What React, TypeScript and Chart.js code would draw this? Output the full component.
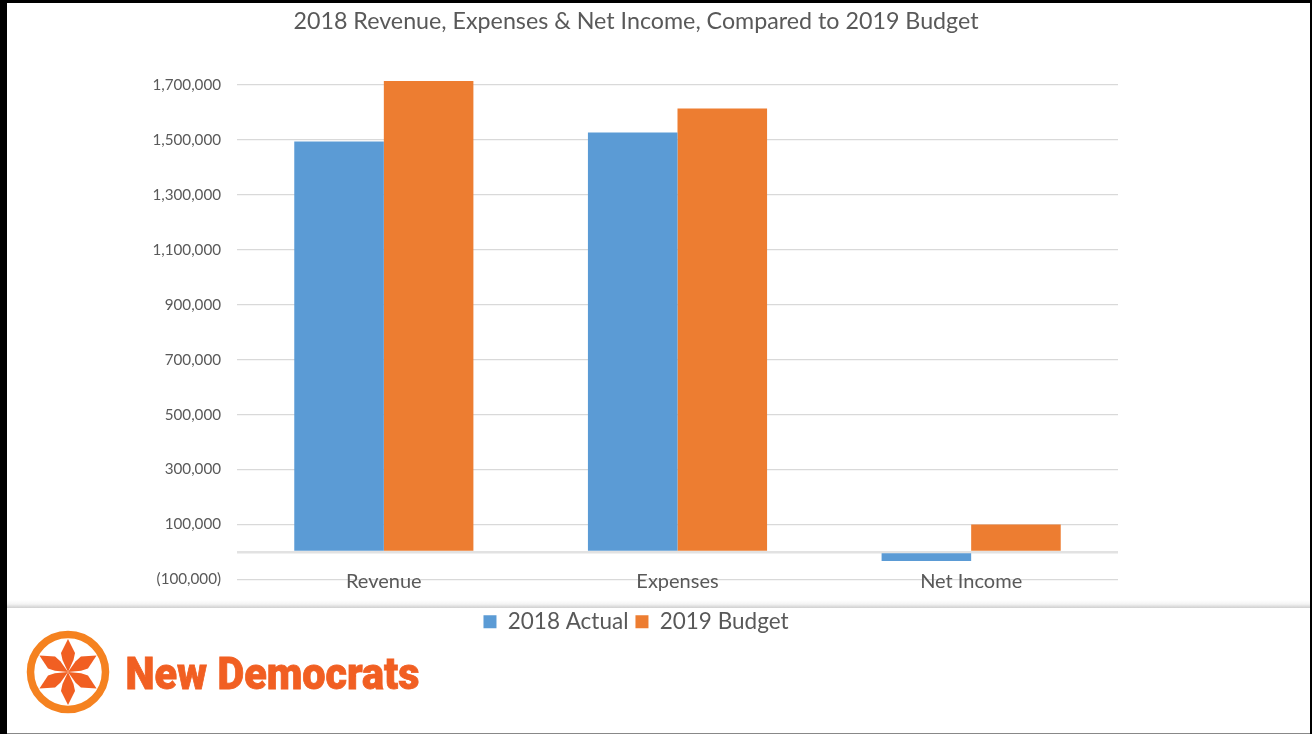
import React, { useEffect, useRef } from "react";
import { Chart, registerables } from "chart.js";

Chart.register(...registerables);

const categories = ["Revenue", "Expenses", "Net Income"];
const actual2018 = [1494000, 1527000, -33000];
const budget2019 = [1714000, 1614000, 100000];
const yTickValues = [-100000, 0, 100000, 300000, 500000, 700000, 900000, 1100000, 1300000, 1500000, 1700000];
const chartTitle = "2018 Revenue, Expenses & Net Income, Compared to 2019 Budget";
const petalAngles = [0, 60, 120, 180, 240, 300];

const BLUE = "#5B9BD5";
const ORANGE = "#ED7D31";
const TEXT = "#595959";
const FONT = "Lato, 'Open Sans', sans-serif";

// Parenthesised negatives and a blank zero, as in an accounting number format.
function formatTick(v: number): string {
  if (v === 0) return "";
  const s = Math.abs(v).toLocaleString("en-US");
  return v < 0 ? `(${s})` : s;
}

function Logo() {
  return (
    <svg width={440} height={100} style={{ position: "absolute", left: 0, top: 630 }}>
      <circle cx={68} cy={42} r={37.5} fill="none" stroke="#F58220" strokeWidth={7.5} />
      {petalAngles.map((a) => (
        <polygon
          key={a}
          points="0,0 5.5,-12 7,-19 0,-33 -7,-19 -5.5,-12"
          fill="#F15F22"
          transform={`translate(68 42) rotate(${a})`}
        />
      ))}
      <text
        x={125.5}
        y={58.5}
        fontFamily="Roboto, sans-serif"
        fontWeight={900}
        fontSize={45}
        fill="#F15F22"
        stroke="#F15F22"
        strokeWidth={0.8}
        textLength={294}
        lengthAdjust="spacingAndGlyphs"
      >
        New Democrats
      </text>
    </svg>
  );
}

export default function App() {
  const canvasRef = useRef<HTMLCanvasElement>(null);

  useEffect(() => {
    document.body.style.margin = "0";
    const chart = new Chart(canvasRef.current!, {
      type: "bar",
      data: {
        labels: categories,
        datasets: [
          { label: "2018 Actual", data: actual2018, backgroundColor: BLUE, categoryPercentage: 0.61, barPercentage: 1 },
          { label: "2019 Budget", data: budget2019, backgroundColor: ORANGE, categoryPercentage: 0.61, barPercentage: 1 },
        ],
      },
      options: {
        responsive: false,
        animation: false,
        layout: { padding: { top: 8, right: 0, bottom: 91, left: 0 } },
        plugins: {
          title: {
            display: true,
            text: chartTitle,
            color: TEXT,
            font: { family: FONT, size: 23.25, weight: "normal" },
            padding: { top: 0, bottom: 43.5 },
          },
          legend: {
            display: true,
            position: "bottom",
            labels: {
              boxWidth: 13,
              boxHeight: 13,
              color: TEXT,
              padding: 7,
              font: { family: FONT, size: 22.5 },
            },
          },
          tooltip: { enabled: false },
        },
        scales: {
          x: {
            grid: { display: false },
            border: { display: false },
            afterFit: (s: any) => { s.height = 24; },
            ticks: {
              color: TEXT,
              font: { family: FONT, size: 20 },
              // Labels sit across the lowest gridline; mirror mode lifts the axis clip.
              mirror: true,
              padding: -14,
              maxRotation: 0,
            },
          },
          y: {
            min: -100000,
            max: 1720000,
            afterFit: (s: any) => { s.width = 237; },
            afterBuildTicks: (s: any) => { s.ticks = yTickValues.map((value) => ({ value })); },
            border: { display: false },
            grid: {
              drawTicks: false,
              color: (c: any) => (c.tick?.value === 0 ? "#E2E2E2" : "#D9D9D9"),
              lineWidth: (c: any) => (c.tick?.value === 0 ? 2.5 : 1.25),
            },
            ticks: {
              color: TEXT,
              padding: 16,
              font: { family: FONT, size: 15.2 },
              callback: (v: any) => formatTick(Number(v)),
            },
          },
          // Empty axis that reserves the blank margin right of the plot, so the
          // title and legend stay centred on the whole canvas.
          rightMargin: {
            position: "right",
            grid: { display: false },
            border: { display: false },
            ticks: { display: false },
            afterFit: (s: any) => { s.width = 154; },
          },
        },
      },
    } as any);
    return () => chart.destroy();
  }, []);

  return (
    <div style={{ position: "relative", width: 1312, height: 734, background: "#fff", overflow: "hidden" }}>
      <canvas ref={canvasRef} width={1272} height={734} style={{ position: "absolute", left: 0, top: 0 }} />
      <div style={{ position: "absolute", left: 7, right: 2, top: 600, height: 8, background: "linear-gradient(#ffffff, #f4f4f4 50%, #cfcfcf)" }} />
      <div style={{ position: "absolute", left: 0, top: 0, width: 1312, height: 3, background: "#000" }} />
      <div style={{ position: "absolute", left: 0, top: 0, width: 7, height: 734, background: "#000" }} />
      <div style={{ position: "absolute", right: 0, top: 0, width: 2, height: 734, background: "#000" }} />
      <div style={{ position: "absolute", left: 7, right: 2, bottom: 0, height: 1, background: "#888" }} />
      <Logo />
    </div>
  );
}
